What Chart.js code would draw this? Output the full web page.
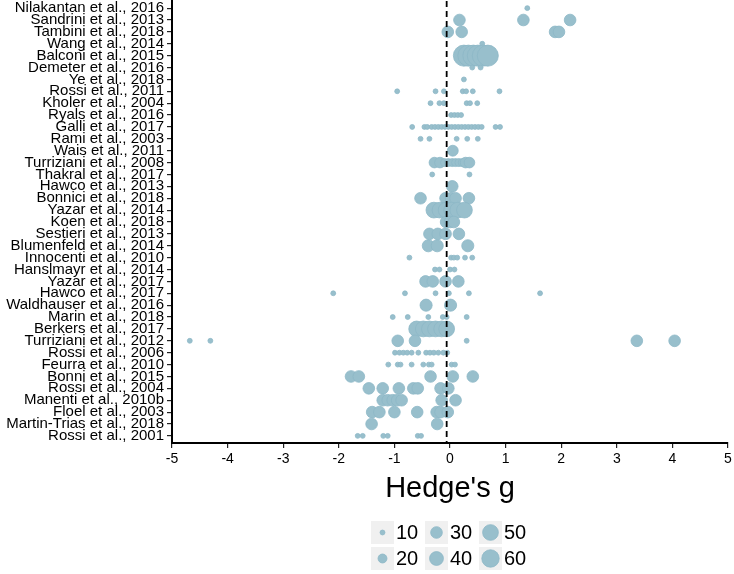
<!DOCTYPE html>
<html>
<head>
<meta charset="utf-8">
<script src="https://cdn.jsdelivr.net/npm/chart.js@4"></script>
<style>
  html, body { margin: 0; padding: 0; background: #fff; }
  #wrap { width: 734px; height: 574px; position: relative; }
</style>
</head>
<body>
<div id="wrap"><canvas id="mycanvas" width="734" height="574"></canvas></div>
<script>
// studies, top to bottom
const studies = [
    "Nilakantan et al., 2016", "Sandrini et al., 2013", "Tambini et al., 2018", "Wang et al., 2014",
    "Balconi et al., 2015", "Demeter et al., 2016", "Ye et al., 2018", "Rossi et al., 2011",
    "Kholer et al., 2004", "Ryals et al., 2016", "Galli et al., 2017", "Rami et al., 2003",
    "Wais et al., 2011", "Turriziani et al., 2008", "Thakral et al., 2017", "Hawco et al., 2013",
    "Bonnici et al., 2018", "Yazar et al., 2014", "Koen et al., 2018", "Sestieri et al., 2013",
    "Blumenfeld et al., 2014", "Innocenti et al., 2010", "Hanslmayr et al., 2014", "Yazar et al., 2017",
    "Hawco et al., 2017", "Waldhauser et al., 2016", "Marin et al., 2018", "Berkers et al., 2017",
    "Turriziani et al., 2012", "Rossi et al., 2006", "Feurra et al., 2010", "Bonni et al., 2015",
    "Rossi et al., 2004", "Manenti et al., 2010b", "Floel et al., 2003", "Martin-Trias et al., 2018",
    "Rossi et al., 2001"
];

// effect sizes per study (Hedge's g)
const hedgesG = [
    [1.39],
    [0.17, 1.32, 2.16],
    [-0.04, 0.21, 1.89, 1.96],
    [0.58],
    [0.25, 0.33, 0.42, 0.50, 0.59, 0.68],
    [0.40, 0.55],
    [0.25],
    [-0.95, -0.26, -0.11, 0.23, 0.29, 0.41, 0.89],
    [-0.35, -0.19, -0.11, 0.30, 0.36, 0.49],
    [0.02, 0.08, 0.14, 0.20],
    [-0.68, -0.46, -0.41, -0.33, -0.27, -0.21, -0.15, -0.09, -0.03, 0.03, 0.09, 0.15, 0.21, 0.27, 0.33, 0.39, 0.45, 0.51, 0.57, 0.82, 0.90],
    [-0.53, -0.37, 0.12, 0.31, 0.50],
    [0.05],
    [-0.28, -0.18, -0.10, -0.03, 0.04, 0.10, 0.16, 0.22, 0.28, 0.35],
    [-0.32, 0.35],
    [0.04],
    [-0.53, -0.08, 0.02, 0.10, 0.34],
    [-0.29, -0.18, -0.07, 0.03, 0.14, 0.26],
    [-0.07, 0.00, 0.07],
    [-0.37, -0.22, -0.08, 0.16],
    [-0.39, -0.23, 0.32],
    [-0.73, 0.02, 0.07, 0.13, 0.27, 0.40],
    [-0.27, -0.19, 0.00, 0.08],
    [-0.44, -0.31, -0.08, 0.15],
    [-2.10, -0.81, -0.26, -0.02, 0.34, 1.62],
    [-0.43, 0.01],
    [-1.03, -0.76, -0.39, -0.13, -0.06, 0.30],
    [-0.60, -0.48, -0.37, -0.26, -0.15, -0.06],
    [-4.68, -4.31, -0.94, -0.63, 0.30, 3.36, 4.04],
    [-0.99, -0.91, -0.84, -0.77, -0.69, -0.57, -0.43, -0.36, -0.29, -0.21, -0.12, -0.05],
    [-1.11, -0.94, -0.89, -0.69, -0.48, -0.38, -0.33, 0.03, 0.09],
    [-1.78, -1.64, -0.35, 0.05, 0.41],
    [-1.46, -1.21, -0.92, -0.66, -0.58, -0.17, -0.03],
    [-1.21, -1.12, -1.03, -0.95, -0.87, -0.15, 0.10],
    [-1.40, -1.27, -1.00, -0.59, -0.24, -0.17, -0.04],
    [-1.41, -0.23],
    [-1.66, -1.57, -1.20, -1.12, -0.58, -0.52]
];

// sample size per study (one number, or one per effect)
const sampleN = [
    10, 30, 30, 10, 85, 10, 10, 10, 10, 10, 10, 10, 27,
    [26, 26, 17, 17, 17, 17, 17, 17, 26, 26],
    10, 30, 30, 50, 30, 30, 32, 10, 10, 30, 10, 32, 10, 50,
    [10, 10, 30, 30, 10, 30, 30],
    10, 10, 30, 30, 30, 30, 30, 10
];

const meanG = -0.06;
const xTicks = [-5, -4, -3, -2, -1, 0, 1, 2, 3, 4, 5];
const legendBreaks = [10, 20, 30, 40, 50, 60];

const dotColor = '#98bfcc';
const dotEdge = '#8db7c6';

const sizeToRadius = function (n) {
    return Math.sqrt(Math.max(1.4 * n - 8, 2));
};

const points = [];
hedgesG.forEach(function (gs, i) {
    gs.forEach(function (g, j) {
        const n = Array.isArray(sampleN[i]) ? sampleN[i][j] : sampleN[i];
        points.push({x: g, y: i, r: sizeToRadius(n)});
    });
});

// size key under the axis title
const sizeLegend = {
    id: 'sizeLegend',
    afterDraw(chart) {
        const ctx = chart.ctx;
        const cols = [371, 425, 479];
        const rows = [521, 547];
        ctx.save();
        legendBreaks.forEach(function (b, k) {
            const bx = cols[Math.floor(k / 2)];
            const by = rows[k % 2];
            ctx.fillStyle = '#f0f0f0';
            ctx.fillRect(bx, by, 23, 23);
            ctx.beginPath();
            ctx.arc(bx + 11.5, by + 11.5, sizeToRadius(b), 0, Math.PI * 2);
            ctx.fillStyle = dotColor;
            ctx.fill();
            ctx.strokeStyle = dotEdge;
            ctx.lineWidth = 0.8;
            ctx.stroke();
            ctx.fillStyle = '#000';
            ctx.font = '20px "Liberation Sans", Arial, sans-serif';
            ctx.textBaseline = 'middle';
            ctx.textAlign = 'left';
            ctx.fillText(String(b), bx + 25, by + 12.5);
        });
        ctx.restore();
    }
};

const ctx = document.getElementById('mycanvas').getContext('2d');
const myChart = new Chart(ctx, {
    type: 'bubble',
    data: {
        datasets: [{
            type: 'line',
            data: [{x: meanG, y: -0.6}, {x: meanG, y: 36.6}],
            borderColor: '#000',
            borderWidth: 1.8,
            borderDash: [6, 4],
            pointRadius: 0,
            order: 0
        }, {
            type: 'bubble',
            data: points,
            backgroundColor: dotColor,
            borderColor: dotEdge,
            borderWidth: 0.8,
            order: 1
        }]
    },
    options: {
        responsive: false,
        animation: false,
        layout: {autoPadding: false, padding: {left: 0, right: 6, top: 1, bottom: 0}},
        plugins: {legend: {display: false}, tooltip: {enabled: false}},
        scales: {
            x: {
                type: 'linear',
                min: -5,
                max: 5,
                afterBuildTicks: s => { s.ticks = xTicks.map(v => ({value: v})); },
                afterFit: s => { s.height = 131; s.paddingLeft = 0; s.paddingRight = 0; },
                ticks: {
                    color: '#000',
                    padding: 3,
                    font: {family: '"Liberation Sans", Arial, sans-serif', size: 14},
                    callback: v => String(v)
                },
                grid: {drawOnChartArea: false, drawTicks: true, tickLength: 5, color: '#222', lineWidth: 1.2},
                border: {display: true, color: '#000', width: 2},
                title: {
                    display: true,
                    text: "Hedge's g",
                    color: '#000',
                    font: {family: '"Liberation Sans", Arial, sans-serif', size: 29},
                    padding: {top: 0, bottom: 68}
                }
            },
            y: {
                type: 'linear',
                reverse: true,
                min: -0.6,
                max: 36.6,
                afterBuildTicks: s => { s.ticks = studies.map((_, i) => ({value: i})); },
                afterFit: s => { s.width = 172; s.paddingTop = 0; s.paddingBottom = 0; },
                ticks: {
                    color: '#000',
                    padding: 3,
                    autoSkip: false,
                    font: {family: '"Liberation Sans", Arial, sans-serif', size: 15},
                    callback: v => studies[v]
                },
                grid: {drawOnChartArea: false, drawTicks: true, tickLength: 5, color: '#222', lineWidth: 1.2},
                border: {display: true, color: '#000', width: 2}
            }
        }
    },
    plugins: [sizeLegend]
});
</script>
</body>
</html>
